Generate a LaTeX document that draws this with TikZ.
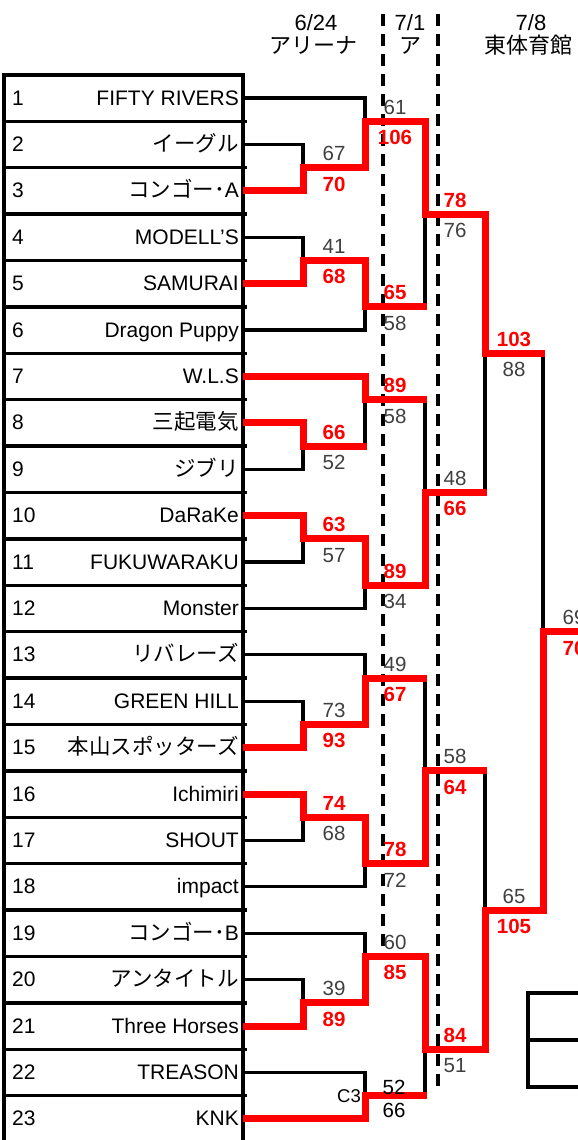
\documentclass[tikz,border=0pt]{standalone}
\usepackage{fontspec}
\setmainfont{Liberation Sans}
\newfontfamily\jpf{Noto Sans CJK JP}
\newcommand\J[1]{{\jpf\fontsize{21.5}{21.5}\selectfont #1}}
\definecolor{sgray}{HTML}{404040}
\definecolor{wred}{HTML}{FF0000}
\newcommand\mscore[7]{%
 \node[#5,anchor=base] (#1a) at (#2,{bd(#3)-7}) {#4};
 \node[#7,anchor=base] (#1b) at (#2,{bd(#3)+23.5}) {#6};}
\begin{document}
\begin{tikzpicture}[x=1pt,y=-1pt,
  declare function={yc(\k)=98+(\k-1)*46.4; bd(\k)=121.2+(\k-1)*46.4;},
  blk/.style={line width=3.2pt,black},
  win/.style={line width=7pt,wred,line join=miter},
  grid/.style={line width=3.4pt,black},
  dsh/.style={line width=3.2pt,black,dash pattern=on 12pt off 8pt},
  lo/.style={text=sgray,font=\fontsize{20.5}{20.5}\selectfont,inner sep=0pt},
  wi/.style={text=wred,font=\bfseries\fontsize{20.5}{20.5}\selectfont,inner sep=0pt},
  bk/.style={text=black,font=\fontsize{20.5}{20.5}\selectfont,inner sep=0pt},
  num/.style={anchor=base west,inner sep=0pt,font=\fontsize{21}{21}\selectfont},
  team/.style={anchor=base east,inner sep=0pt,font=\fontsize{21}{21}\selectfont},
  hd/.style={anchor=base,inner sep=0pt,font=\fontsize{22}{22}\selectfont},
  hdj/.style={anchor=base,inner sep=0pt,font=\jpf\fontsize{22}{22}\selectfont}]
\useasboundingbox (0,0) rectangle (578,1140);
\fill[white] (0,0) rectangle (578,1140);
% headers
\node[hd] (h1) at (316,31) {6/24};
\node[hdj] (h1j) at (313,53) {アリーナ};
\node[hd] (h2) at (410,31) {7/1};
\node[hdj] (h2j) at (410,53) {ア};
\node[hd] (h3) at (531,31) {7/8};
\node[hdj] (h3j) at (528,53) {東体育館};
% table
\draw[grid] (4,1150) -- (4,{bd(0)}) -- (243,{bd(0)}) -- (243,1150);
\foreach \k in {1,...,22} {\draw[grid] (4,{bd(\k)}) -- (247,{bd(\k)});}
% dashed separators
\draw[dsh] (383,14) -- (383,955);
\draw[dsh] (438,14) -- (438,1093);
% team rows
\foreach \k in {1,...,23} {\node[num] (n\k) at (12,{yc(\k)+7}) {\k};}
\node[team] (t1) at (239,{yc(1)+7}) {FIFTY RIVERS};
\node[team] (t2) at (239,{yc(2)+7}) {\J{イーグル}};
\node[team] (t3) at (239,{yc(3)+7}) {\J{コンゴー･}A};
\node[team] (t4) at (239,{yc(4)+7}) {MODELL’S};
\node[team] (t5) at (239,{yc(5)+7}) {SAMURAI};
\node[team] (t6) at (239,{yc(6)+7}) {Dragon Puppy};
\node[team] (t7) at (239,{yc(7)+7}) {W.L.S};
\node[team] (t8) at (239,{yc(8)+7}) {\J{三起電気}};
\node[team] (t9) at (239,{yc(9)+7}) {\J{ジブリ}};
\node[team] (t10) at (239,{yc(10)+7}) {DaRaKe};
\node[team] (t11) at (239,{yc(11)+7}) {FUKUWARAKU};
\node[team] (t12) at (239,{yc(12)+7}) {Monster};
\node[team] (t13) at (239,{yc(13)+7}) {\J{リバレーズ}};
\node[team] (t14) at (239,{yc(14)+7}) {GREEN HILL};
\node[team] (t15) at (239,{yc(15)+7}) {\J{本山スポッターズ}};
\node[team] (t16) at (239,{yc(16)+7}) {Ichimiri};
\node[team] (t17) at (239,{yc(17)+7}) {SHOUT};
\node[team] (t18) at (239,{yc(18)+7}) {impact};
\node[team] (t19) at (239,{yc(19)+7}) {\J{コンゴー･}B};
\node[team] (t20) at (239,{yc(20)+7}) {\J{アンタイトル}};
\node[team] (t21) at (239,{yc(21)+7}) {Three Horses};
\node[team] (t22) at (239,{yc(22)+7}) {TREASON};
\node[team] (t23) at (239,{yc(23)+7}) {KNK};
% black bracket
\foreach \a in {2,4,8,10,14,16,20} {
  \draw[blk] (243,{yc(\a)}) -| (303,{yc(\a+1)}) -- (243,{yc(\a+1)});
  \draw[blk] (303,{bd(\a)}) -- (365,{bd(\a)});
}
\foreach \a in {1,7,13,19} {\draw[blk] (243,{yc(\a)}) -| (365,{bd(\a+1)});}
\foreach \a in {6,12,18} {\draw[blk] (243,{yc(\a)}) -| (365,{bd(\a-2)});}
\draw[blk] (243,{yc(22)}) -| (365,{yc(23)}) -- (243,{yc(23)});
\foreach \a in {1,5,7,11,13,17,19,22} {\draw[blk] (365,{bd(\a)}) -- (425,{bd(\a)});}
\draw[blk] (425,{bd(1)}) -- (425,{bd(5)});
\draw[blk] (425,{bd(7)}) -- (425,{bd(11)});
\draw[blk] (425,{bd(13)}) -- (425,{bd(17)});
\draw[blk] (425,{bd(19)}) -- (425,{bd(22)});
\foreach \a in {3,9,15,21} {\draw[blk] (425,{bd(\a)}) -- (485,{bd(\a)});}
\draw[blk] (485,{bd(3)}) -- (485,{bd(9)});
\draw[blk] (485,{bd(15)}) -- (485,{bd(21)});
\foreach \a in {6,18} {\draw[blk] (485,{bd(\a)}) -- (543,{bd(\a)});}
\draw[blk] (543,{bd(6)}) -- (543,{bd(18)});
\draw[blk] (543,{bd(12)}) -- (610,{bd(12)});
% red winner paths
\draw[win] (243,{yc(3)}) -- (303,{yc(3)}) -- (303,{bd(2)}) -- (365,{bd(2)}) -- (365,{bd(1)}) -- (425,{bd(1)}) -- (425,{bd(3)}) -- (485,{bd(3)}) -- (485,{bd(6)}) -- (545,{bd(6)});
\draw[win] (243,{yc(5)}) -- (303,{yc(5)}) -- (303,{bd(4)}) -- (365,{bd(4)}) -- (365,{bd(5)}) -- (427,{bd(5)});
\draw[win] (243,{yc(7)}) -- (365,{yc(7)}) -- (365,{bd(7)}) -- (427,{bd(7)});
\draw[win] (243,{yc(8)}) -- (303,{yc(8)}) -- (303,{bd(8)}) -- (367,{bd(8)});
\draw[win] (243,{yc(10)}) -- (303,{yc(10)}) -- (303,{bd(10)}) -- (365,{bd(10)}) -- (365,{bd(11)}) -- (425,{bd(11)}) -- (425,{bd(9)}) -- (487,{bd(9)});
\draw[win] (243,{yc(15)}) -- (303,{yc(15)}) -- (303,{bd(14)}) -- (365,{bd(14)}) -- (365,{bd(13)}) -- (427,{bd(13)});
\draw[win] (243,{yc(16)}) -- (303,{yc(16)}) -- (303,{bd(16)}) -- (365,{bd(16)}) -- (365,{bd(17)}) -- (425,{bd(17)}) -- (425,{bd(15)}) -- (487,{bd(15)});
\draw[win] (243,{yc(21)}) -- (303,{yc(21)}) -- (303,{bd(20)}) -- (365,{bd(20)}) -- (365,{bd(19)}) -- (425,{bd(19)}) -- (425,{bd(21)}) -- (485,{bd(21)}) -- (485,{bd(18)}) -- (543,{bd(18)}) -- (543,{bd(12)}) -- (610,{bd(12)});
\draw[win] (243,{yc(23)}) -- (365,{yc(23)}) -- (365,{bd(22)}) -- (427,{bd(22)});
% scores round 1
\mscore{r1a}{334}{2}{67}{lo}{70}{wi}
\mscore{r1b}{334}{4}{41}{lo}{68}{wi}
\mscore{r1c}{334}{8}{66}{wi}{52}{lo}
\mscore{r1d}{334}{10}{63}{wi}{57}{lo}
\mscore{r1e}{334}{14}{73}{lo}{93}{wi}
\mscore{r1f}{334}{16}{74}{wi}{68}{lo}
\mscore{r1g}{334}{20}{39}{lo}{89}{wi}
% round 2
\mscore{r2a}{395}{1}{61}{lo}{106}{wi}
\mscore{r2b}{395}{5}{65}{wi}{58}{lo}
\mscore{r2c}{395}{7}{89}{wi}{58}{lo}
\mscore{r2d}{395}{11}{89}{wi}{34}{lo}
\mscore{r2e}{395}{13}{49}{lo}{67}{wi}
\mscore{r2f}{395}{17}{78}{wi}{72}{lo}
\mscore{r2g}{395}{19}{60}{lo}{85}{wi}
\node[bk,anchor=base] (r2ha) at (394,{bd(22)-1}) {52};
\node[bk,anchor=base] (r2hb) at (394,{bd(22)+22}) {66};
\node[bk,anchor=base,font=\fontsize{18.5}{18.5}\selectfont] (c3) at (349,{bd(22)+7}) {C3};
% round 3
\mscore{r3a}{455}{3}{78}{wi}{76}{lo}
\mscore{r3b}{455}{9}{48}{lo}{66}{wi}
\mscore{r3c}{455}{15}{58}{lo}{64}{wi}
\mscore{r3d}{455}{21}{84}{wi}{51}{lo}
% round 4
\mscore{r4a}{514}{6}{103}{wi}{88}{lo}
\mscore{r4b}{514}{18}{65}{lo}{105}{wi}
% final
\mscore{fin}{574}{12}{69}{lo}{70}{wi}
% box bottom right
\draw[grid] (610,993) -- (528,993) -- (528,1087) -- (610,1087);
\draw[grid] (528,1040) -- (610,1040);
\end{tikzpicture}
\end{document}
